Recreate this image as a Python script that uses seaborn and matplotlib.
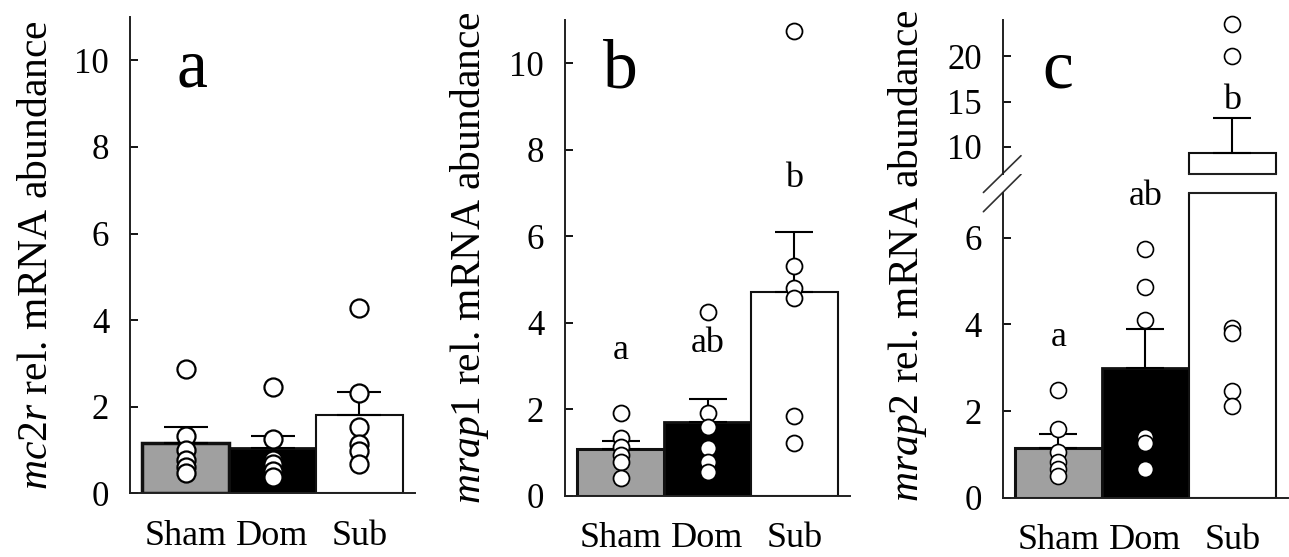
import numpy as np
import pandas as pd
import matplotlib
matplotlib.use("Agg")
import matplotlib.pyplot as plt
from matplotlib.collections import PathCollection
import seaborn as sns

# ---------------------------------------------------------------- data
groups = ["Sham", "Dom", "Sub"]
bar_colors = ["#a0a0a0", "#000000", "#ffffff"]

# mc2r
mc2r_mean = [1.17, 1.04, 1.80]
mc2r_sem = [0.37, 0.29, 0.55]
mc2r_sham = [2.86, 1.33, 1.00, 0.77, 0.61, 0.46]
mc2r_dom = [2.46, 1.25, 0.77, 0.68, 0.52, 0.37]
mc2r_sub = [4.27, 2.32, 1.54, 1.15, 0.98, 0.68]

# mrap1
mrap1_mean = [1.08, 1.70, 4.71]
mrap1_sem = [0.19, 0.54, 1.39]
mrap1_sham = [1.91, 1.33, 1.14, 0.95, 0.79, 0.41]
mrap1_dom = [4.24, 1.91, 1.60, 1.10, 0.79, 0.56]
mrap1_sub = [10.73, 5.31, 4.80, 4.57, 1.85, 1.22]
mrap1_letters = ["a", "ab", "b"]

# mrap2
mrap2_mean = [1.14, 3.00, 9.27]
mrap2_sem = [0.32, 0.89, 3.93]
mrap2_sham = [2.49, 1.58, 1.06, 0.83, 0.66, 0.50]
mrap2_dom = [5.74, 4.87, 4.10, 1.41, 1.26, 0.66]
mrap2_sub = [23.56, 20.07, 3.91, 3.80, 2.46, 2.12]
mrap2_letters = ["a", "ab", "b"]

# ---------------------------------------------------------------- style
sns.set_theme(style="ticks")
plt.rcParams["font.family"] = ["Liberation Serif", "DejaVu Serif"]
plt.rcParams["mathtext.fontset"] = "custom"
plt.rcParams["mathtext.rm"] = "Liberation Serif"
plt.rcParams["mathtext.it"] = "Liberation Serif:italic"
plt.rcParams["text.color"] = "black"
plt.rcParams["axes.labelcolor"] = "black"
plt.rcParams["axes.edgecolor"] = "#202020"
plt.rcParams["axes.linewidth"] = 1.4

W, H = 1289, 557
fig = plt.figure(figsize=(W / 100, H / 100), dpi=100)


def px_axes(left, top, width, height):
    return fig.add_axes([left / W, 1 - (top + height) / H, width / W, height / H])


XLIM = (-0.638, 2.638)
TICK_FS = 25
XLAB_FS = 26
YLAB_FS = 30


def long_form(sham, dom, sub):
    return pd.DataFrame({
        "group": ["Sham"] * len(sham) + ["Dom"] * len(dom) + ["Sub"] * len(sub),
        "value": list(sham) + list(dom) + list(sub),
    })


def draw_panel(ax, mean, sem, pts, edge_w, cap, msize, mew, show_x=True):
    sns.barplot(x=groups, y=mean, hue=groups, palette=bar_colors, order=groups,
                hue_order=groups, width=1.0, edgecolor="black", errorbar=None,
                legend=False, ax=ax, zorder=1)
    for patch, lw in zip(ax.patches, edge_w):
        patch.set_linewidth(lw)
        patch.set_edgecolor("#111111")
    ax.errorbar(x=np.arange(len(groups)), y=mean,
                yerr=[np.zeros(len(mean)), sem], fmt="none", ecolor="black",
                elinewidth=1.5, capsize=cap, capthick=1.5, zorder=2)
    if len(pts):
        sns.stripplot(data=pts, x="group", y="value", order=groups, jitter=False,
                      size=msize, color="white", edgecolor="black",
                      linewidth=mew, ax=ax, zorder=3)
        # let the individual points overhang the axes frame
        for coll in ax.collections:
            if isinstance(coll, PathCollection):
                coll.set_clip_on(False)
    ax.set_xlim(*XLIM)
    ax.set_xlabel("")
    ax.set_ylabel("")
    sns.despine(ax=ax)
    ax.tick_params(axis="y", direction="in", length=6, width=1.3, pad=15,
                   labelsize=TICK_FS, colors="black")
    ax.tick_params(axis="x", length=0, pad=19, labelsize=XLAB_FS,
                   colors="black")
    if not show_x:
        ax.tick_params(axis="x", labelbottom=False)


# ---------------------------------------------------------------- panel a
ax_a = px_axes(130, 17, 285, 476.3)
draw_panel(ax_a, mc2r_mean, mc2r_sem, long_form(mc2r_sham, mc2r_dom, mc2r_sub),
           edge_w=[2.5, 2.0, 1.5], cap=16, msize=13, mew=1.6)
ax_a.set_ylim(0, 11)
ax_a.set_yticks([0, 2, 4, 6, 8, 10])
ax_a.set_ylabel(r"$\mathit{mc2r}$ rel. mRNA abundance", fontsize=YLAB_FS)
ax_a.yaxis.set_label_coords(-74 / 285, 0.5)
ax_a.text(0.07, 9.39, "a", fontsize=50, ha="center", va="baseline")

# ---------------------------------------------------------------- panel b
ax_b = px_axes(565, 19.7, 285, 476.3)
draw_panel(ax_b, mrap1_mean, mrap1_sem, long_form(mrap1_sham, mrap1_dom, mrap1_sub),
           edge_w=[2.2, 2.0, 1.5], cap=13.5, msize=11.5, mew=1.3)
ax_b.set_ylim(0, 11)
ax_b.set_yticks([0, 2, 4, 6, 8, 10])
ax_b.set_ylabel(r"$\mathit{mrap1}$ rel. mRNA abundance", fontsize=YLAB_FS)
ax_b.yaxis.set_label_coords(-74 / 285, 0.5)
ax_b.text(0, 9.43, "b", fontsize=50, ha="center", va="baseline")
for i, (lab, y) in enumerate(zip(mrap1_letters, [3.17, 3.33, 7.14])):
    ax_b.text(i, y, lab, fontsize=XLAB_FS, ha="center", va="baseline")

# ---------------------------------------------------------------- panel c (broken axis)
BREAK = 7.0
df_c = long_form(mrap2_sham, mrap2_dom, mrap2_sub)
ax_cl = px_axes(1002.7, 193, 285, 304.7)
ax_cu = px_axes(1002.7, 20, 285, 154)
draw_panel(ax_cl, mrap2_mean, mrap2_sem, df_c[df_c["value"] < BREAK],
           edge_w=[2.2, 2.0, 1.5], cap=13.5, msize=11.5, mew=1.2)
draw_panel(ax_cu, mrap2_mean, mrap2_sem, df_c[df_c["value"] >= BREAK],
           edge_w=[2.2, 2.0, 1.5], cap=13.5, msize=11.5, mew=1.2, show_x=False)
ax_cl.set_ylim(0, 7.03)
ax_cl.set_yticks([0, 2, 4, 6])
ax_cu.set_ylim(BREAK, 24.0)
ax_cu.set_yticks([10, 15, 20])

# close the clipped Sub bar on both sides of the break
ax_cl.spines["top"].set_visible(True)
ax_cl.spines["top"].set_bounds(1.5, 2.5)
ax_cl.spines["top"].set_linewidth(1.5)
ax_cu.spines["bottom"].set_bounds(1.5, 2.5)
ax_cu.spines["bottom"].set_linewidth(1.5)

# break marks on the y axis
brk = dict(color="#303030", lw=1.2, clip_on=False)
ax_cu.plot([-19.3 / 285, 18.3 / 285], [-18.5 / 154, 18.3 / 154],
           transform=ax_cu.transAxes, **brk)
ax_cl.plot([-19.3 / 285, 18.3 / 285], [1 - 18.7 / 304.7, 1 + 18.7 / 304.7],
           transform=ax_cl.transAxes, **brk)

ax_cl.set_ylabel(r"$\mathit{mrap2}$ rel. mRNA abundance", fontsize=YLAB_FS)
ax_cl.yaxis.set_label_coords(-74 / 285, (497.7 - 256) / 304.7)
ax_cu.text(0, 16.5, "c", fontsize=50, ha="center", va="baseline")
ax_cl.text(0, 3.49, mrap2_letters[0], fontsize=XLAB_FS, ha="center", va="baseline")
ax_cl.text(1, 6.76, mrap2_letters[1], fontsize=XLAB_FS, ha="center", va="baseline")
ax_cu.text(2, 14.2, mrap2_letters[2], fontsize=XLAB_FS, ha="center", va="baseline")

fig.savefig("out.png", dpi=100, facecolor="white")
